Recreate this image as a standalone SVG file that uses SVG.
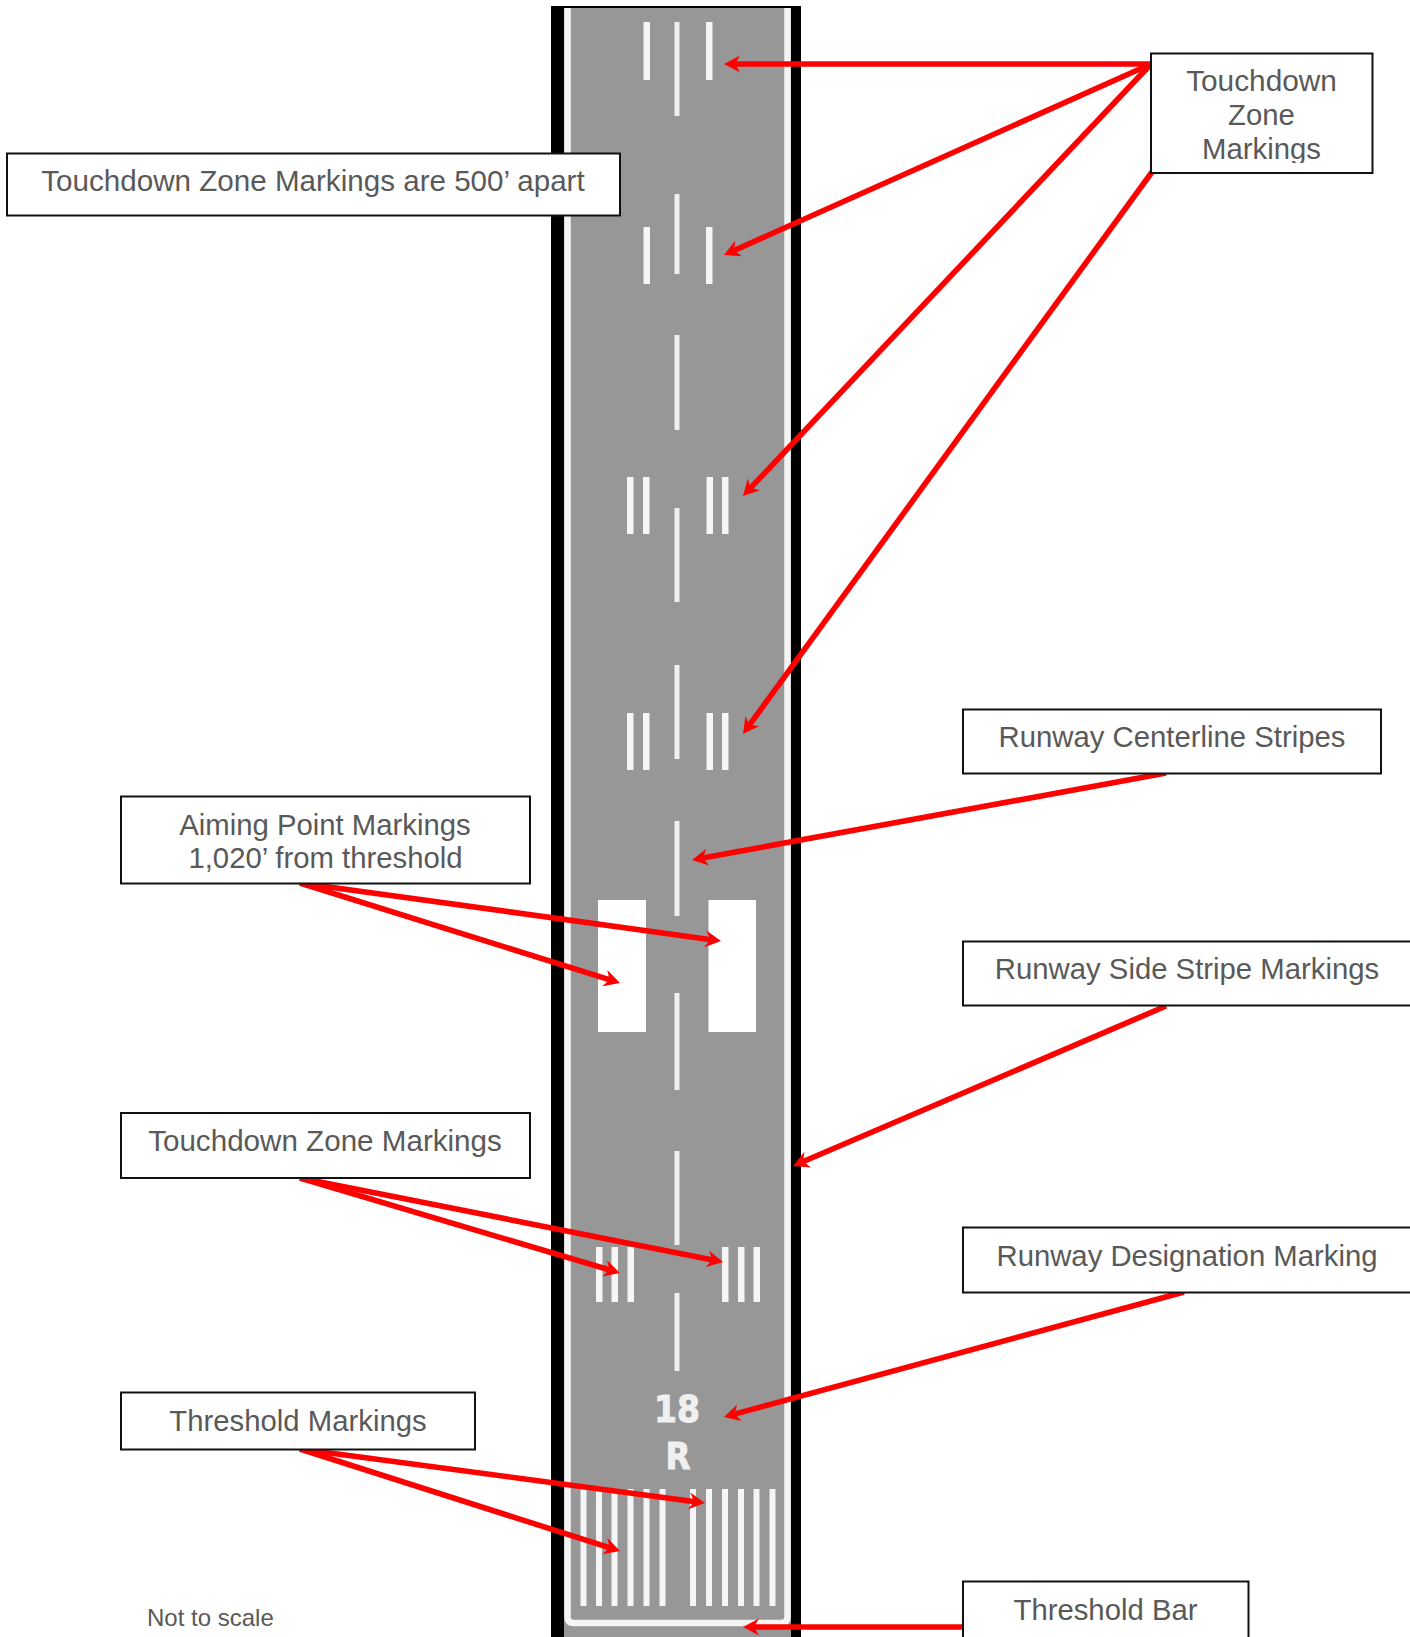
<svg xmlns="http://www.w3.org/2000/svg" width="1410" height="1637" viewBox="0 0 1410 1637">
<style>
.m{fill:#f6f6f6}
.c{fill:#f0f0f0}
.b{fill:#fff;stroke:#111;stroke-width:2}
.t{font-family:"Liberation Sans",Arial,sans-serif;font-size:29.3px;fill:#595959;text-anchor:middle}
.a{stroke:#ff0000;stroke-width:5.6;fill:none;marker-end:url(#h)}
.d{font-family:"DejaVu Sans",sans-serif;font-weight:700;font-size:38px;fill:#f0f0f0;stroke:#f0f0f0;stroke-width:1;text-anchor:middle}
</style>
<defs>
<marker id="h" markerUnits="userSpaceOnUse" markerWidth="17" markerHeight="19" refX="8" refY="9" orient="auto" viewBox="0 0 17 18">
<path d="M0 0.5L16 9L0 17.5L5 9Z" fill="#ff0000"/>
</marker>
<clipPath id="cl"><rect x="1152" y="55" width="219" height="108"/></clipPath>
<filter id="soft" x="-2%" y="-2%" width="104%" height="104%"><feGaussianBlur stdDeviation="0.7"/></filter>
</defs>
<rect width="1410" height="1637" fill="#fff"/>
<g id="runway">
<rect x="551" y="6" width="250" height="1631" fill="#000"/>
<g filter="url(#soft)">
<rect x="564" y="8" width="227" height="1629" fill="#979797"/>
<path d="M567.5 8V1617Q567.5 1623 574 1623H781Q787.5 1623 787.5 1617V8" fill="none" stroke="#f4f4f4" stroke-width="6.5"/>
<g class="c">
<rect x="674.5" y="22" width="5" height="94"/><rect x="674.5" y="194" width="5" height="80"/>
<rect x="674.5" y="335" width="5" height="95"/><rect x="674.5" y="508" width="5" height="94"/>
<rect x="674.5" y="665" width="5" height="94"/><rect x="674.5" y="821" width="5" height="95"/>
<rect x="674.5" y="993" width="5" height="97"/><rect x="674.5" y="1151" width="5" height="94"/>
<rect x="674.5" y="1293" width="5" height="78"/>
</g>
<g class="m">
<rect x="643.5" y="22" width="6.5" height="58"/><rect x="706" y="22" width="6.5" height="58"/>
<rect x="643.5" y="227" width="6.5" height="57"/><rect x="706" y="227" width="6.5" height="57"/>
<rect x="627" y="477" width="6.5" height="57"/><rect x="643" y="477" width="6.5" height="57"/><rect x="706.5" y="477" width="6.5" height="57"/><rect x="722" y="477" width="6.5" height="57"/>
<rect x="627" y="713" width="6.5" height="57"/><rect x="643" y="713" width="6.5" height="57"/><rect x="706.5" y="713" width="6.5" height="57"/><rect x="722" y="713" width="6.5" height="57"/>
<rect x="596" y="1247" width="6.5" height="55"/><rect x="611.5" y="1247" width="6.5" height="55"/><rect x="627.5" y="1247" width="6.5" height="55"/>
<rect x="722" y="1247" width="6.5" height="55"/><rect x="738" y="1247" width="6.5" height="55"/><rect x="753.5" y="1247" width="6.5" height="55"/>
<rect x="580.5" y="1489" width="6" height="117"/><rect x="596" y="1489" width="6" height="117"/><rect x="611.5" y="1489" width="6" height="117"/><rect x="627.5" y="1489" width="6" height="117"/><rect x="643.5" y="1489" width="6" height="117"/><rect x="659.5" y="1489" width="6" height="117"/>
<rect x="690" y="1489" width="6" height="117"/><rect x="706" y="1489" width="6" height="117"/><rect x="722" y="1489" width="6" height="117"/><rect x="738" y="1489" width="6" height="117"/><rect x="753.5" y="1489" width="6" height="117"/><rect x="769.5" y="1489" width="6" height="117"/>
</g>
<rect x="598" y="900" width="48" height="132" fill="#fff"/>
<rect x="708.5" y="900" width="47.5" height="132" fill="#fff"/>
</g>
<text class="d" x="677" y="1422" textLength="46" lengthAdjust="spacingAndGlyphs">18</text>
<text class="d" x="678" y="1469" textLength="25" lengthAdjust="spacingAndGlyphs">R</text>
</g>
<g id="connectors">
<line class="a" x1="1151" y1="64" x2="732" y2="64"/>
<line class="a" x1="1151" y1="64" x2="731.3" y2="251.7"/>
<line class="a" x1="1151" y1="64" x2="748.5" y2="490.2"/>
<line class="a" x1="1152" y1="172" x2="747.7" y2="727.5"/>
<line class="a" x1="1166" y1="773" x2="699.9" y2="858.6"/>
<line class="a" x1="300" y1="883" x2="713.1" y2="939.9"/>
<line class="a" x1="300" y1="883" x2="612.4" y2="980.6"/>
<line class="a" x1="1166" y1="1006" x2="800.4" y2="1162.8"/>
<line class="a" x1="300" y1="1178" x2="715.2" y2="1260.4"/>
<line class="a" x1="300" y1="1178" x2="612.3" y2="1270.7"/>
<line class="a" x1="1184" y1="1292" x2="731.7" y2="1414.9"/>
<line class="a" x1="300" y1="1449" x2="697.1" y2="1502"/>
<line class="a" x1="300" y1="1449" x2="612.4" y2="1548.6"/>
<line class="a" x1="962" y1="1627" x2="751" y2="1627"/>
</g>
<g id="label-tdz-top">
<rect class="b" x="1151" y="53.5" width="221.5" height="119.5"/>
<text class="t" clip-path="url(#cl)" x="1261.5" y="91" style="font-size:29.8px">Touchdown</text>
<text class="t" x="1261.5" y="125">Zone</text>
<text class="t" clip-path="url(#cl)" x="1261.5" y="159">Markings</text>
</g>
<g id="label-500">
<rect class="b" x="7" y="153.5" width="613" height="62"/>
<text class="t" x="313" y="191" style="font-size:29.6px">Touchdown Zone Markings are 500’ apart</text>
</g>
<g id="label-centerline">
<rect class="b" x="963" y="709.5" width="418" height="64"/>
<text class="t" x="1172" y="747">Runway Centerline Stripes</text>
</g>
<g id="label-aiming">
<rect class="b" x="121" y="796.5" width="409" height="87"/>
<text class="t" x="325" y="835">Aiming Point Markings</text>
<text class="t" x="325.5" y="868">1,020’ from threshold</text>
</g>
<g id="label-side">
<rect class="b" x="963" y="941.5" width="449" height="64"/>
<text class="t" x="1187" y="979">Runway Side Stripe Markings</text>
</g>
<g id="label-tdz">
<rect class="b" x="121" y="1113" width="409" height="65"/>
<text class="t" x="325" y="1151" style="font-size:29.6px">Touchdown Zone Markings</text>
</g>
<g id="label-designation">
<rect class="b" x="963" y="1227.5" width="449" height="65"/>
<text class="t" x="1187" y="1266">Runway Designation Marking</text>
</g>
<g id="label-threshold">
<rect class="b" x="121" y="1392.5" width="354" height="57"/>
<text class="t" x="298" y="1431">Threshold Markings</text>
</g>
<g id="label-bar">
<rect class="b" x="963" y="1581.5" width="285.5" height="60"/>
<text class="t" x="1105.5" y="1620">Threshold Bar</text>
</g>
<g id="note">
<text x="147" y="1626" font-family="Liberation Sans,Arial,sans-serif" font-size="24" fill="#595959">Not to scale</text>
</g>
</svg>
